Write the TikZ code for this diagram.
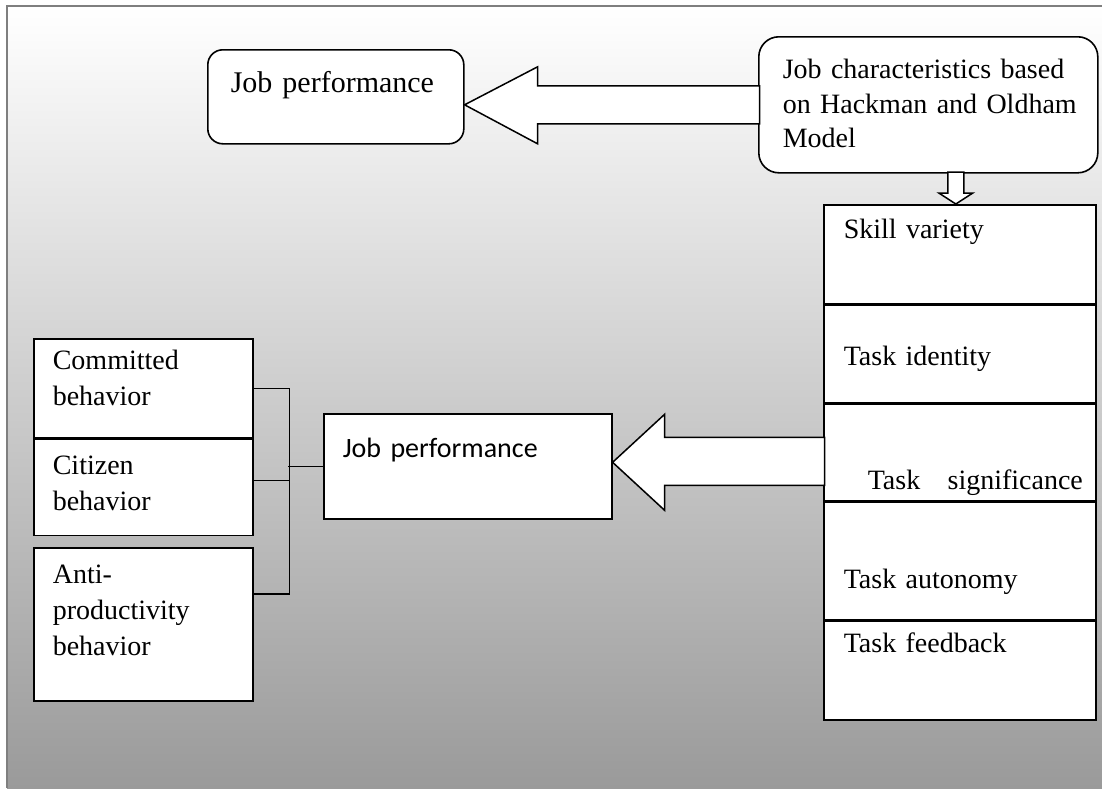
\documentclass[tikz,border=0pt]{standalone}
\usepackage{fontspec}
\setmainfont{Liberation Serif}
\newfontfamily\calfont{Carlito}
\usepackage{tikz}
\usetikzlibrary{
    positioning,
    calc
}
\definecolor{jcFrame}{HTML}{7F7F7F}
\definecolor{jcMid}{HTML}{D2D2D2}
\definecolor{jcBottom}{HTML}{9A9A9A}
\tikzset{
    jcRound/.style={
        draw=black,
        fill=white,
        line width=1.6pt,
        anchor=north west,
        align=left,
        inner ysep=0pt
    },
    jcBox/.style={
        draw=black,
        fill=white,
        line width=1.6pt,
        anchor=north west,
        align=left,
        inner ysep=0pt,
        inner xsep=19pt,
        minimum width=219pt,
        text width=181pt
    },
    jcRow/.style={
        draw=black,
        fill=white,
        line width=1.6pt,
        align=left,
        inner ysep=0pt,
        inner xsep=20pt,
        minimum width=272pt,
        text width=232pt
    },
    jcFat/.style={draw=black,fill=white,line width=1.5pt,line join=miter},
    jcLink/.style={draw=black,line width=1.5pt}
}

\begin{document}
\begin{tikzpicture}[x=1pt,y=-1pt,font=\fontsize{28}{36}\selectfont]
        \useasboundingbox (0,0) rectangle (1102,788);
        \fill[top color=white,middle color=jcMid,bottom color=jcBottom]
            (7,6) rectangle (1102,788);
        \draw[jcFrame,line width=2pt] (7,788) -- (7,6) -- (1102,6);

        % top row
        \node[jcRound,rounded corners=15pt,minimum width=256pt,inner xsep=23pt,
            text width=210pt,text height=43pt,text depth=51pt,
            font=\fontsize{30}{36}\selectfont] (jpTop) at (207,49)
            {Job performance};
        \node[jcRound,rounded corners=20pt,minimum width=339pt,inner xsep=24pt,
            text width=291pt,text height=42pt,text depth=94pt,
            font=\fontsize{28}{34.5}\selectfont] (hmBox) at (758,36)
            {\mbox{Job characteristics based}\\\mbox{on Hackman and Oldham}\\Model};

        % five job characteristics
        \node[jcRow,anchor=north west,text height=34pt,text depth=65pt] (skill) at (823,204)
            {Skill variety};
        \node[jcRow,below=0pt of skill,text height=60pt,text depth=37pt] (identity)
            {Task identity};
        \node[jcRow,below=0pt of identity,text height=85pt,text depth=12pt] (signif)
            {\mbox{\hspace{24pt}Task\hspace{18pt} significance}};
        \node[jcRow,below=0pt of signif,text height=86pt,text depth=31pt] (autonomy)
            {Task autonomy};
        \node[jcRow,below=0pt of autonomy,text height=31pt,text depth=68pt] (feedback)
            {Task feedback};

        % performance dimensions
        \node[jcBox,text height=31pt,text depth=68pt] (committed) at (33,338)
            {Committed\\behavior};
        \node[jcBox,below=0pt of committed,text height=35pt,text depth=61pt] (citizen)
            {Citizen\\behavior};
        \node[jcBox,below=11pt of citizen,text height=35pt,text depth=118pt] (anti)
            {Anti-\\productivity\\behavior};
        \node[jcBox,minimum width=288pt,text width=250pt,text height=44pt,text depth=61pt,
            font=\calfont\fontsize{28}{34}\selectfont] (jpMid) at (323,413)
            {Job performance};

        % block arrows
        \draw[jcFat] (jpTop.east |- hmBox.west) -- ++(73,-38) -- ++(0,19) -- ++(222,0)
            -- ++(0,38) -- ++(-222,0) -- ++(0,20) -- cycle;
        \draw[jcFat] ($(skill.north)+(-4,0)$) -- ++(-17,-11) -- ++(9,0) -- ++(0,-21)
            -- ++(16,0) -- ++(0,21) -- ++(9,0) -- cycle;
        \draw[jcFat] ($(jpMid.east)+(0,-4)$) -- ++(52,-48) -- ++(0,23) -- ++(160,0)
            -- ++(0,48) -- ++(-160,0) -- ++(0,25) -- cycle;

        % bracket
        \draw[jcLink] (committed.east) -| ($(anti.north east)+(36,47)$)
            -- ($(anti.north east)+(0,47)$);
        \draw[jcLink] ($(citizen.east)+(0,-7)$) -- ++(36,0);
        \draw[jcLink] (jpMid.west) -- ++(-35,0);
\end{tikzpicture}
\end{document}
